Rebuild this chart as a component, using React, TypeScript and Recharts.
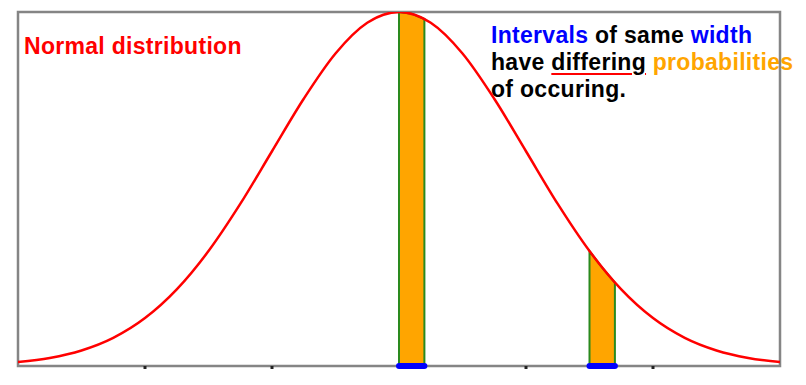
import {
  Area,
  ComposedChart,
  Line,
  ReferenceArea,
  ReferenceLine,
  XAxis,
  YAxis
} from "recharts";

// density, x in standard deviations
const curveX = [
  -3, -2.75, -2.5, -2.25, -2, -1.75, -1.5, -1.25, -1, -0.75, -0.5, -0.25, 0,
  0.25, 0.5, 0.75, 1, 1.25, 1.5, 1.75, 2, 2.25, 2.5, 2.75, 3
];
const curveY = [
  0.0044, 0.0091, 0.0175, 0.0317, 0.054, 0.0863, 0.1295, 0.1826, 0.242, 0.3011,
  0.3521, 0.3867, 0.3989, 0.3867, 0.3521, 0.3011, 0.242, 0.1826, 0.1295, 0.0863,
  0.054, 0.0317, 0.0175, 0.0091, 0.0044
];

// the two shaded intervals (same width)
const bandAX = [0, 0, 0.1, 0.2, 0.2];
const bandAY = [0, 0.3989, 0.397, 0.391, 0];
const bandBX = [1.5, 1.5, 1.6, 1.7, 1.7];
const bandBY = [0, 0.1295, 0.1109, 0.094, 0];

const xTicks = [-2, -1, 1, 2];
const xDomain = [-3, 3];
const yTop = 0.3989;

const curve = curveX.map((x, i) => ({ x, y: curveY[i] }));
const bandA = bandAX.map((x, i) => ({ x, y: bandAY[i] }));
const bandB = bandBX.map((x, i) => ({ x, y: bandBY[i] }));

const font = {
  fontFamily: "'Liberation Sans', Arial, sans-serif",
  fontWeight: 700,
  fontSize: 23,
  lineHeight: "27px",
  letterSpacing: 0.3
};

export default function App() {
  return (
    <div style={{ position: "absolute", left: 0, top: 0, width: 806, height: 385, background: "#fff", overflow: "hidden" }}>
      <div style={{ ...font, position: "absolute", left: 24, top: 33, color: "#ff0000", whiteSpace: "nowrap" }}>
        Normal distribution
      </div>
      <div style={{ ...font, position: "absolute", left: 491, top: 22, color: "#000", whiteSpace: "nowrap" }}>
        <div>
          <span style={{ color: "#0000ff" }}>Intervals</span> of same <span style={{ color: "#0000ff" }}>width</span>
        </div>
        <div>
          have{" "}
          <span style={{ textDecoration: "underline", textDecorationColor: "#ff0000", textDecorationThickness: 2, textUnderlineOffset: 3 }}>
            differing
          </span>{" "}
          <span style={{ color: "#ffa500" }}>probabilities</span>
        </div>
        <div>of occuring.</div>
      </div>
      <ComposedChart
        width={806}
        height={385}
        margin={{ top: 12, right: 26, bottom: 0, left: 18 }}
        style={{ position: "absolute", left: 0, top: 0 }}
      >
        <XAxis
          type="number"
          dataKey="x"
          domain={xDomain}
          ticks={xTicks}
          allowDataOverflow
          height={19}
          axisLine={false}
          tickLine={{ stroke: "#222", strokeWidth: 3 }}
          tickSize={3}
          tickFormatter={() => ""}
        />
        <YAxis type="number" dataKey="y" domain={[0, yTop]} hide allowDataOverflow />
        <ReferenceArea
          x1={xDomain[0]}
          x2={xDomain[1]}
          y1={0}
          y2={yTop}
          fill="none"
          fillOpacity={0}
          stroke="#858585"
          strokeWidth={2.5}
          ifOverflow="visible"
        />
        <Area data={bandA} dataKey="y" type="linear" fill="#ffa500" fillOpacity={1} stroke="#2a8a1e" strokeWidth={2} isAnimationActive={false} />
        <Area data={bandB} dataKey="y" type="linear" fill="#ffa500" fillOpacity={1} stroke="#2a8a1e" strokeWidth={2} isAnimationActive={false} />
        <ReferenceLine segment={[{ x: bandAX[0], y: 0 }, { x: bandAX[4], y: 0 }]} stroke="#0000ff" strokeWidth={6} strokeLinecap="round" ifOverflow="visible" />
        <ReferenceLine segment={[{ x: bandBX[0], y: 0 }, { x: bandBX[4], y: 0 }]} stroke="#0000ff" strokeWidth={6} strokeLinecap="round" ifOverflow="visible" />
        <Line data={curve} dataKey="y" type="monotone" stroke="#ff0000" strokeWidth={2.5} dot={false} activeDot={false} isAnimationActive={false} />
      </ComposedChart>
    </div>
  );
}
